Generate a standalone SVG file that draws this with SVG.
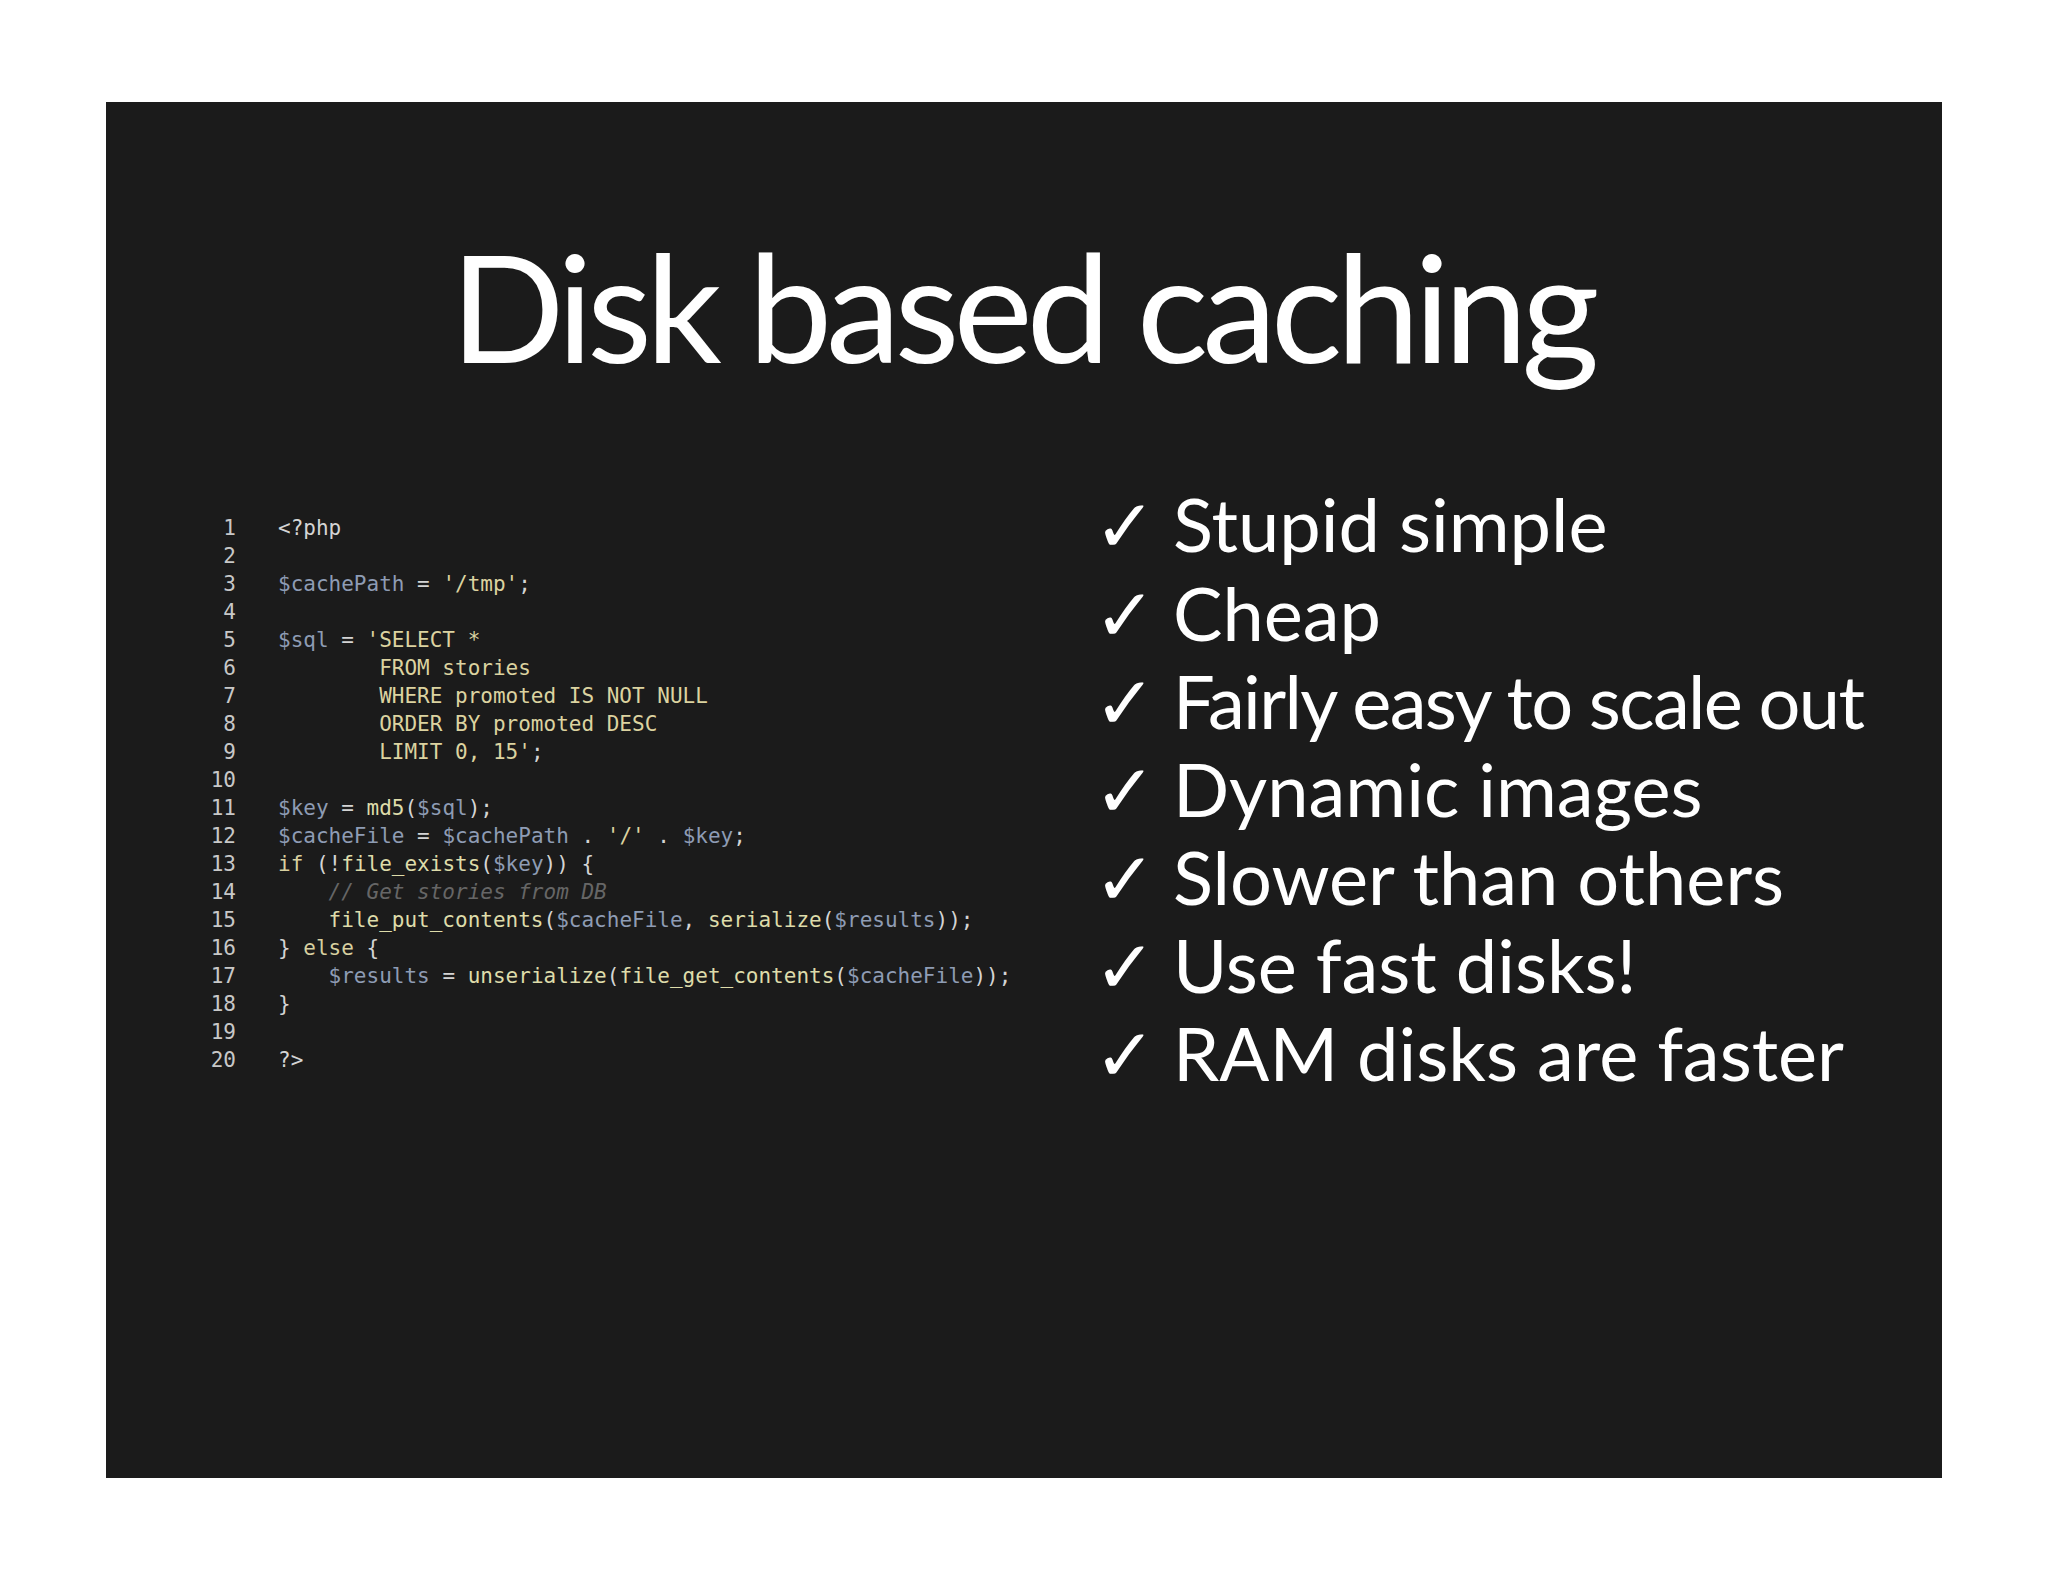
<svg xmlns="http://www.w3.org/2000/svg" width="2048" height="1582" viewBox="0 0 2048 1582">
<style>
.t{font-family:"Lato","Open Sans",sans-serif;fill:#ffffff}
.b{font-size:74px}
.c{font-family:"DejaVu Sans Mono","Liberation Mono",monospace;font-size:21px;fill:#d4d4d4;white-space:pre}
.n{font-family:"DejaVu Sans Mono","Liberation Mono",monospace;font-size:21px;fill:#c8c8c8;text-anchor:end}
.v{fill:#8e9cb4}.s{fill:#dcd3a0}.f{fill:#dedcaa}.k{fill:#d8d0a0}.m{fill:#666;font-style:italic}
</style>
<rect width="2048" height="1582" fill="#fff"/>
<rect x="106" y="102" width="1836" height="1376" fill="#1b1b1b"/>
<g id="title"><text class="t" x="1025" y="363" font-size="150" text-anchor="middle" textLength="1149">Disk based caching</text></g>
<g id="bullets" class="t b">
<text x="1094" y="552">✓</text><text x="1173" y="552">Stupid simple</text>
<text x="1094" y="641">✓</text><text x="1173" y="641">Cheap</text>
<text x="1094" y="729">✓</text><text x="1173" y="729" textLength="692">Fairly easy to scale out</text>
<text x="1094" y="817">✓</text><text x="1173" y="817">Dynamic images</text>
<text x="1094" y="905">✓</text><text x="1173" y="905">Slower than others</text>
<text x="1094" y="993">✓</text><text x="1173" y="993">Use fast disks!</text>
<text x="1094" y="1081">✓</text><text x="1173" y="1081">RAM disks are faster</text>
</g>
<g id="linenums">
<text class="n" x="236" y="535">1</text><text class="n" x="236" y="563">2</text><text class="n" x="236" y="591">3</text><text class="n" x="236" y="619">4</text><text class="n" x="236" y="647">5</text><text class="n" x="236" y="675">6</text><text class="n" x="236" y="703">7</text><text class="n" x="236" y="731">8</text><text class="n" x="236" y="759">9</text><text class="n" x="236" y="787">10</text><text class="n" x="236" y="815">11</text><text class="n" x="236" y="843">12</text><text class="n" x="236" y="871">13</text><text class="n" x="236" y="899">14</text><text class="n" x="236" y="927">15</text><text class="n" x="236" y="955">16</text><text class="n" x="236" y="983">17</text><text class="n" x="236" y="1011">18</text><text class="n" x="236" y="1039">19</text><text class="n" x="236" y="1067">20</text>
</g>
<g id="code" xml:space="preserve">
<text class="c" x="278" y="535">&lt;?php</text>
<text class="c" x="278" y="591"><tspan class="v">$cachePath</tspan> = <tspan class="s">'/tmp'</tspan>;</text>
<text class="c" x="278" y="647"><tspan class="v">$sql</tspan> = <tspan class="s">'SELECT *</tspan></text>
<text class="c" x="278" y="675"><tspan class="s">        FROM stories</tspan></text>
<text class="c" x="278" y="703"><tspan class="s">        WHERE promoted IS NOT NULL</tspan></text>
<text class="c" x="278" y="731"><tspan class="s">        ORDER BY promoted DESC</tspan></text>
<text class="c" x="278" y="759"><tspan class="s">        LIMIT 0, 15'</tspan>;</text>
<text class="c" x="278" y="815"><tspan class="v">$key</tspan> = <tspan class="f">md5</tspan>(<tspan class="v">$sql</tspan>);</text>
<text class="c" x="278" y="843"><tspan class="v">$cacheFile</tspan> = <tspan class="v">$cachePath</tspan> . <tspan class="s">'/'</tspan> . <tspan class="v">$key</tspan>;</text>
<text class="c" x="278" y="871"><tspan class="k">if</tspan> (!<tspan class="f">file_exists</tspan>(<tspan class="v">$key</tspan>)) {</text>
<text class="c" x="278" y="899">    <tspan class="m">// Get stories from DB</tspan></text>
<text class="c" x="278" y="927">    <tspan class="f">file_put_contents</tspan>(<tspan class="v">$cacheFile</tspan>, <tspan class="f">serialize</tspan>(<tspan class="v">$results</tspan>));</text>
<text class="c" x="278" y="955">} <tspan class="k">else</tspan> {</text>
<text class="c" x="278" y="983">    <tspan class="v">$results</tspan> = <tspan class="f">unserialize</tspan>(<tspan class="f">file_get_contents</tspan>(<tspan class="v">$cacheFile</tspan>));</text>
<text class="c" x="278" y="1011">}</text>
<text class="c" x="278" y="1067">?&gt;</text>
</g>
</svg>
